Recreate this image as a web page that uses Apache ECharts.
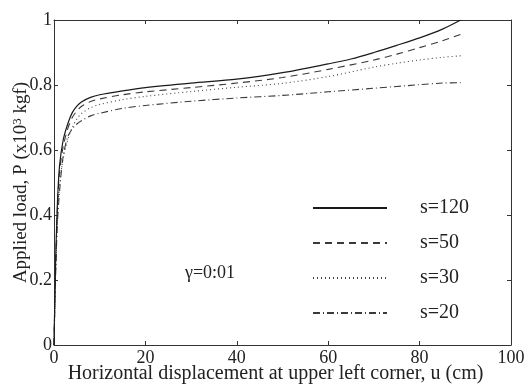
<!DOCTYPE html>
<html>
<head>
<meta charset="utf-8">
<script src="https://cdn.jsdelivr.net/npm/echarts@6/dist/echarts.min.js"></script>
<style>html,body{margin:0;padding:0;background:#fff}#c{width:530px;height:385px}</style>
</head>
<body>
<div id="c"></div>
<script>
// Horizontal displacement u (cm) and applied load P (x10^3 kgf)
const u120 = [0,0.3,0.7,1.2,2,3,4,5,6,8,10,15,20,30,40,50,60,65,70,75,80,85,89];
const p120 = [0,0.22,0.42,0.55,0.63,0.68,0.715,0.735,0.748,0.762,0.77,0.782,0.792,0.806,0.818,0.838,0.865,0.88,0.9,0.922,0.945,0.972,1.0];
const u50 = [0,0.3,0.7,1.2,2,3,4,5,6,8,10,15,20,30,40,50,60,70,75,80,85,89];
const p50 = [0,0.21,0.40,0.53,0.61,0.665,0.70,0.72,0.734,0.749,0.757,0.77,0.779,0.792,0.806,0.823,0.848,0.877,0.895,0.915,0.936,0.956];
const u30 = [0,0.3,0.7,1.2,2,3,4,5,6,8,10,15,20,30,40,50,60,70,75,80,85,89];
const p30 = [0,0.2,0.38,0.49,0.575,0.63,0.67,0.695,0.712,0.73,0.74,0.755,0.765,0.78,0.793,0.805,0.826,0.855,0.867,0.877,0.885,0.89];
const u20 = [0,0.3,0.7,1.2,2,3,4,5,6,8,10,15,20,30,40,50,60,70,80,85,89];
const p20 = [0,0.19,0.36,0.47,0.58,0.64,0.665,0.68,0.69,0.705,0.713,0.728,0.737,0.75,0.76,0.768,0.779,0.79,0.801,0.806,0.807];
const seriesNames = ['s=120','s=50','s=30','s=20'];
const xTicks = [0,20,40,60,80,100];
const yTicks = [0,0.2,0.4,0.6,0.8,1];
const annotation = 'γ=0:01';

const pairs = (xs, ys) => xs.map((x, i) => [x, ys[i]]);
const FONT = '"Liberation Serif", "DejaVu Serif", serif';
const chart = echarts.init(document.getElementById('c'), null, {renderer: 'canvas'});

const lineStyles = [
  {color: '#1a1a1a', width: 1.2, type: 'solid'},
  {color: '#3a3a3a', width: 1.1, type: [7, 5]},
  {color: '#444', width: 1.1, type: [1, 3]},
  {color: '#3a3a3a', width: 1.1, type: [7, 3, 1, 3]}
];
const datasets = [pairs(u120, p120), pairs(u50, p50), pairs(u30, p30), pairs(u20, p20)];

const axisCommon = {
  min: 0,
  axisLine: {show: true, onZero: false, lineStyle: {color: '#333', width: 1}},
  axisTick: {show: true, inside: true, length: 4, lineStyle: {color: '#333'}},
  splitLine: {show: false}
};

chart.setOption({
  animation: false,
  backgroundColor: '#fff',
  grid: {left: 54, right: 19, top: 20, bottom: 40, containLabel: false, outerBoundsMode: 'none'},
  legend: {
    orient: 'vertical',
    left: 307, top: 193,
    itemWidth: 74, itemHeight: 20, itemGap: 15,
    data: seriesNames,
    itemStyle: {opacity: 0},
    textStyle: {fontFamily: FONT, fontSize: 20, lineHeight: 20, color: '#222', padding: [0, 0, 0, 28]}
  },
  xAxis: [
    Object.assign({}, axisCommon, {
      type: 'value', max: 100, interval: 20, position: 'bottom',
      axisLabel: {fontFamily: FONT, fontSize: 18, color: '#222', margin: 4,
        formatter: v => xTicks.includes(v) ? String(v) : ''},
      name: 'Horizontal displacement at upper left corner, u (cm)',
      nameLocation: 'middle', nameGap: 19, nameMoveOverlap: false,
      nameTextStyle: {fontFamily: FONT, fontSize: 20, color: '#222', padding: [0, 14, 0, 0]}
    }),
    Object.assign({}, axisCommon, {
      type: 'value', max: 100, interval: 20, position: 'top',
      axisLabel: {show: false}
    })
  ],
  yAxis: [
    Object.assign({}, axisCommon, {
      type: 'value', max: 1, interval: 0.2, position: 'left',
      axisLabel: {fontFamily: FONT, fontSize: 18, color: '#222', margin: 2,
        formatter: v => { const t = yTicks.find(k => Math.abs(k - v) < 1e-9); return t === undefined ? '' : String(t); }},
      name: 'Applied load, P (x10{sup|3} kgf)',
      nameLocation: 'middle', nameGap: 22, nameRotate: 90, nameMoveOverlap: false,
      nameTextStyle: {fontFamily: FONT, fontSize: 19, color: '#222',
        rich: {sup: {fontFamily: FONT, fontSize: 13, color: '#222', verticalAlign: 'top', padding: [0, 0, 8, 0]}}}
    }),
    Object.assign({}, axisCommon, {
      type: 'value', max: 1, interval: 0.2, position: 'right',
      axisLabel: {show: false}
    })
  ],
  graphic: [{
    type: 'text', left: 185, top: 264, silent: true,
    style: {text: annotation, font: '18px ' + FONT, fill: '#222'}
  }],
  series: datasets.map((d, i) => ({
    name: seriesNames[i], type: 'line', data: d, showSymbol: false, symbol: 'none',
    smooth: 0.3, lineStyle: lineStyles[i], itemStyle: {color: lineStyles[i].color},
    xAxisIndex: 0, yAxisIndex: 0, z: 4 - i
  }))
});
</script>
</body>
</html>
